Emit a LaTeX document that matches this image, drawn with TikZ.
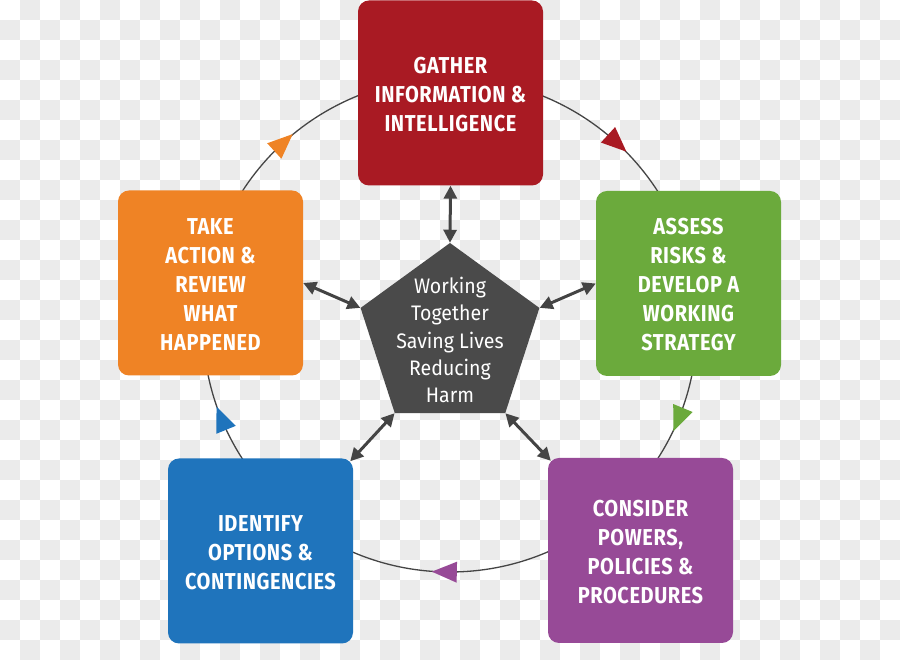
\documentclass[tikz,border=0pt]{standalone}
\usepackage{fontspec}
\setmainfont{Fira Sans}
\newfontfamily\boxfont[FakeStretch=0.87,LetterSpace=2.5]{Fira Sans}
\newfontfamily\penfont[FakeStretch=0.93]{Fira Sans}
\usetikzlibrary{shapes.geometric,arrows.meta,calc}
\definecolor{redc}{HTML}{A91A23}
\definecolor{greenc}{HTML}{6BAA3C}
\definecolor{purc}{HTML}{974A97}
\definecolor{bluec}{HTML}{1F74BC}
\definecolor{orac}{HTML}{EF8325}
\definecolor{pent}{HTML}{4A4A4A}
\definecolor{linec}{HTML}{444444}
\definecolor{checker}{HTML}{EBEBEB}
\begin{document}
\begin{tikzpicture}[x=1pt,y=1pt,
  stepbox/.style={rectangle, rounded corners=11pt, minimum width=185pt, minimum height=185pt, inner sep=0pt, text=white, align=center, font=\boxfont\bfseries\fontsize{23}{29}\selectfont},
  boxtext/.style={text=white, align=center, font=\boxfont\bfseries\fontsize{23}{29}\selectfont},
  dbl/.style={linec, line width=3pt, {Triangle[width=13pt,length=13pt]}-{Triangle[width=13pt,length=13pt]}},
  circ/.style={linec, line width=1.3pt}]
\useasboundingbox (0,0) rectangle (900,660);
\fill[white] (0,0) rectangle (900,660);
\foreach \i in {0,...,44}{\foreach \j in {0,...,32}{%
  \pgfmathtruncatemacro\chk{mod(\i+\j,2)}%
  \ifnum\chk=1 \fill[checker] (20*\i,640-20*\j) rectangle ++(20,20);\fi}}
\coordinate (c) at (450,335);
\draw[circ] (c) circle (247pt);
\foreach \a/\col in {47.5/redc,-22.4/greenc,268.8/purc,202.3/bluec,132.5/orac}
  \fill[\col, shift={($(c)+(\a:247pt)$)}, rotate=\a-90] (13,0) -- (-12,10.5) -- (-12,-10.5) -- cycle;
\node[stepbox, fill=redc] (gather) at (450.5,567) {};
\node[stepbox, fill=greenc] (assess) at (688.5,376.5) {};
\node[stepbox, fill=purc] (consider) at (640.5,109.5) {};
\node[stepbox, fill=bluec] (identify) at (260.5,109) {};
\node[stepbox, fill=orac] (take) at (210.5,377) {};
\node[boxtext] (gathert) at ($(gather)+(0,-1.5)$) {GATHER\\INFORMATION \&\\INTELLIGENCE};
\node[boxtext] (assesst) at ($(assess)+(0,-1.5)$) {ASSESS\\RISKS \&\\DEVELOP A\\WORKING\\STRATEGY};
\node[boxtext] (considert) at ($(consider)+(0,-1.5)$) {CONSIDER\\POWERS,\\POLICIES \&\\PROCEDURES};
\node[boxtext] (identifyt) at ($(identify)+(0,-1.5)$) {IDENTIFY\\OPTIONS \&\\CONTINGENCIES};
\node[boxtext] (taket) at ($(take)+(0,-1.5)$) {TAKE\\ACTION \&\\REVIEW\\WHAT\\HAPPENED};
\node[regular polygon, regular polygon sides=5, minimum size=188pt, inner sep=0pt, fill=pent] (hub) at (450,323) {};
\node[text=white, align=center, font=\penfont\fontsize{21}{27.25}\selectfont] (hubtext) at (450,320) {Working\\Together\\Saving Lives\\Reducing\\Harm};
\draw[dbl] (hub.corner 1) -- (gather.south);
\draw[dbl] (hub.corner 2) -- (take.east);
\draw[dbl] (hub.corner 5) -- (assess.west);
\draw[dbl] (hub.corner 3) -- ($(identify.north east)+(-3,-3)$);
\draw[dbl] (hub.corner 4) -- ($(consider.north west)+(3,-3)$);
\end{tikzpicture}
\end{document}
